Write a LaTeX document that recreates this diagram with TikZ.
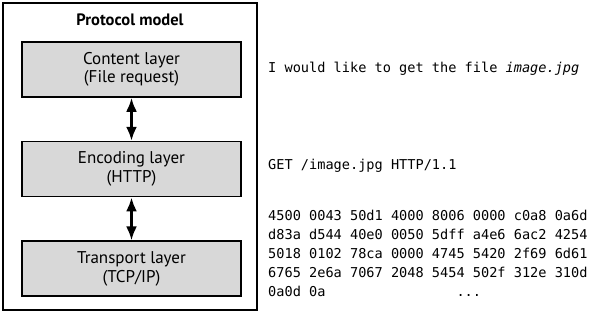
\documentclass[tikz,border=0pt]{standalone}
\usepackage{fontspec}
\setmainfont{PT Sans}
\setmonofont{DejaVu Sans Mono}
\usepackage{xcolor}
\usepackage{tikz}
\usetikzlibrary{arrows.meta,positioning}

\definecolor{layergray}{RGB}{216,216,216}

\begin{document}
\begin{tikzpicture}[
  x=1pt, y=1pt,
  node distance=43pt,
  layer/.style={draw, line width=1.6pt, align=center, minimum width=219pt, minimum height=55pt, fill=layergray, font=\fontsize{17}{18.5}\selectfont, inner sep=0pt},
  wire/.style={text=black, font=\fontsize{13.6}{19}\selectfont\ttfamily, anchor=west, inner sep=0pt, align=left},
  arrow/.style={{Latex[length=14pt,width=11pt]}-{Latex[length=14pt,width=11pt]}, line width=2.6pt}
]
\useasboundingbox (0,0) rectangle (594,-313);
\draw[line width=1.2pt] (3,-3) rectangle (257,-310);
\node[font=\fontsize{16.5}{18}\selectfont\bfseries] (title) at (130,-20) {Protocol model};
\node[layer] (content) at (131.5,-69.5) {Content layer\\(File request)};
\node[layer, below=of content] (encoding) {Encoding layer\\(HTTP)};
\node[layer, below=of encoding] (transport) {Transport layer\\(TCP/IP)};
\draw[arrow] (content) -- (encoding);
\draw[arrow] (encoding) -- (transport);
\node[wire] (request) at (268,-69) {I would like to get the file \textit{image.jpg}};
\node[wire] (get) at (268,-166) {GET /image.jpg HTTP/1.1};
\node[wire, anchor=north west] (bytes) at (268,-210) {4500 0043 50d1 4000 8006 0000 c0a8 0a6d\\
d83a d544 40e0 0050 5dff a4e6 6ac2 4254\\
5018 0102 78ca 0000 4745 5420 2f69 6d61\\
6765 2e6a 7067 2048 5454 502f 312e 310d\\
0a0d 0a\hspace{131pt}...};
\end{tikzpicture}
\end{document}
